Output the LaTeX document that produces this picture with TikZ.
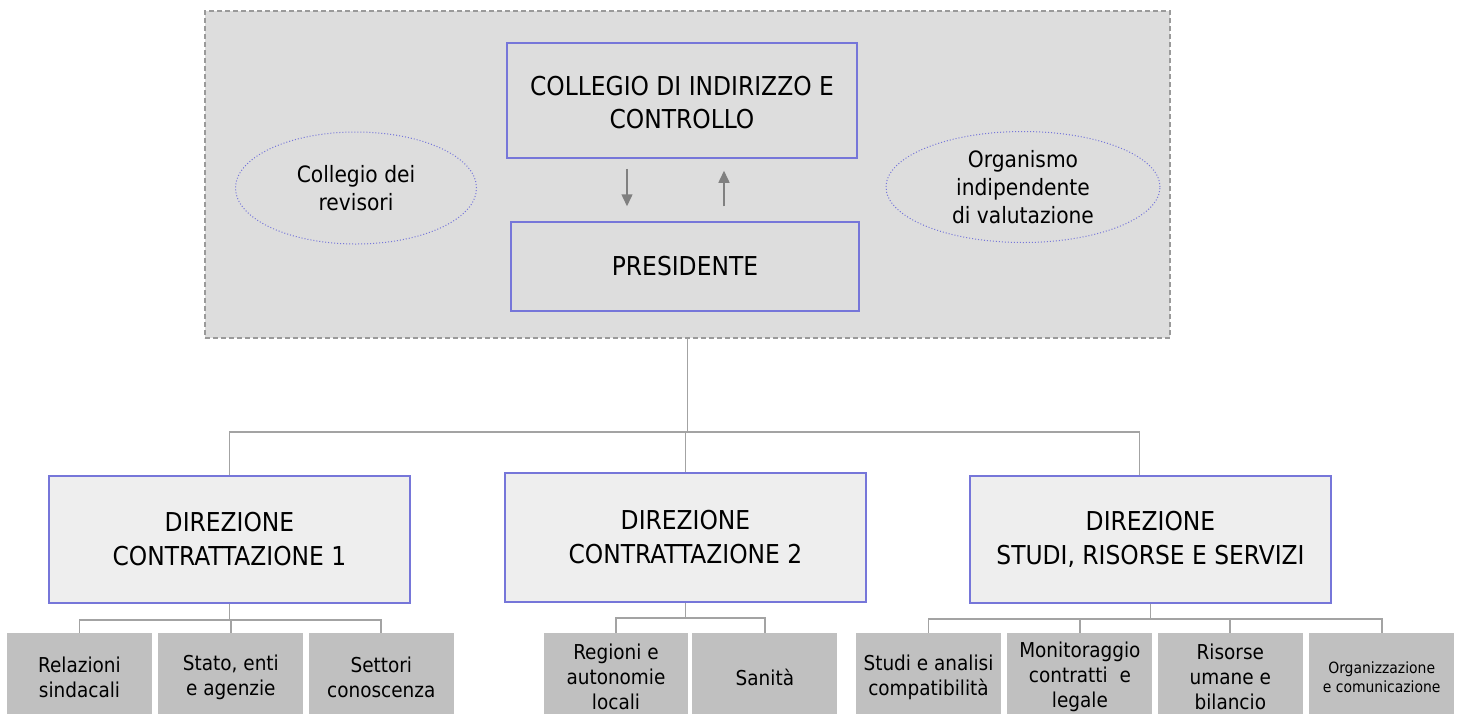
\documentclass[tikz,border=0pt]{standalone}
\usepackage{fontspec}
\setmainfont{DejaVu Sans Condensed}
\usepackage{tikz}
\usepackage{xcolor}
\usetikzlibrary{shapes}
\usetikzlibrary{calc}
\usetikzlibrary{positioning, fit, arrows.meta}

\definecolor{boxblue}{HTML}{7676D9}
\definecolor{panelgray}{HTML}{DDDDDD}
\definecolor{dashgray}{HTML}{9A9A9A}
\definecolor{dirgray}{HTML}{EEEEEE}
\definecolor{subgray}{HTML}{C0C0C0}
\definecolor{linegray}{HTML}{A3A3A3}
\definecolor{arrgray}{HTML}{808080}

\begin{document}
\begin{tikzpicture}[x=1pt, y=-1pt,
  panelbox/.style = {draw=dashgray, fill=panelgray, dashed, dash pattern=on 5pt off 3pt, line width=1.4pt, minimum width=965pt, minimum height=327pt},
  govbox/.style = {draw=boxblue, line width=1.5pt, align=center, inner sep=0pt, font=\fontsize{26}{33}\selectfont},
  organbox/.style = {draw=boxblue, dotted, ellipse, line width=1pt, align=center, inner sep=-3pt, font=\fontsize{22.5}{28}\selectfont},
  dirbox/.style = {draw=boxblue, fill=dirgray, line width=1.5pt, minimum width=361pt, align=center, inner sep=0pt, font=\fontsize{26}{34}\selectfont},
  unitbox/.style = {fill=subgray, minimum width=145pt, minimum height=88pt, align=center, inner sep=0pt, font=\fontsize{20.5}{25}\selectfont},
  conn/.style = {draw=linegray, line width=1.8pt},
  arr/.style = {draw=arrgray, line width=1.5pt, -{Triangle[length=12pt, width=11pt]}}]
    \useasboundingbox (0,0) rectangle (1460,713);

    % Nodes
    \node[panelbox] (panel) at (687.5,174.5) {};
    \node[govbox, minimum width=350pt, minimum height=115pt] (coll) at (682,100.5) {\\[-10pt]COLLEGIO DI INDIRIZZO E\\CONTROLLO};
    \node[govbox, minimum width=348pt, minimum height=89pt] (pres) at (685,266.5) {PRESIDENTE};
    \node[organbox, minimum width=241pt, minimum height=112pt] (rev) at (356,188) {Collegio dei\\revisori};
    \node[organbox, minimum width=274pt, minimum height=111pt] (oiv) at (1023,187) {Organismo\\indipendente\\di valutazione};

    \node[dirbox, minimum height=127pt] (d1) at (229.5,539.5) {DIREZIONE\\CONTRATTAZIONE 1};
    \node[dirbox, minimum height=129pt] (d2) at (685.5,537.5) {DIREZIONE\\CONTRATTAZIONE 2};
    \node[dirbox, minimum height=127pt] (d3) at (1150.5,539.5) {DIREZIONE\\STUDI, RISORSE E SERVIZI};

    \node[unitbox] (rel) at (79.5,677) {Relazioni\\sindacali};
    \node[unitbox, right=6pt of rel] (sta) {Stato, enti\\e agenzie};
    \node[unitbox, right=5pt of sta] (set) {Settori\\conoscenza};

    \node[unitbox, minimum width=144pt] (reg) at (616,677) {Regioni e\\autonomie\\locali};
    \node[unitbox, right=4pt of reg] (san) {Sanità};

    \node[unitbox] (stu) at (928.5,677) {Studi e analisi\\compatibilità};
    \node[unitbox, right=6pt of stu] (mon) {Monitoraggio\\contratti\ \ e\\legale};
    \node[unitbox, right=5pt of mon] (ris) {Risorse\\umane e\\bilancio};
    \node[unitbox, right=6pt of ris, font=\fontsize{15.5}{19}\selectfont] (org) {Organizzazione\\e comunicazione};

    % Lines
    \draw[arr] ($(coll.south)+(-55,10)$) -- ($(pres.north)+(-58,-15)$);
    \draw[arr] ($(pres.north)+(39,-15)$) -- ($(coll.south)+(42,12)$);

    \coordinate (bus) at (687,432);
    \draw[conn] (panel.south) -- (panel.south |- bus);
    \draw[conn] (d1.north) |- (bus) -| ($(d3.north)+(-11,0)$);
    \draw[conn] (d2.north |- bus) -- (d2.north);

    \draw[conn] (d1.south) -- ++(0,16) coordinate (b1);
    \draw[conn] (rel.north) |- (b1) -| (set.north);
    \draw[conn] (sta.north) -- (sta.north |- b1);

    \draw[conn] (d2.south) -- ++(0,15) coordinate (b2);
    \draw[conn] (reg.north) |- (b2) -| (san.north);

    \draw[conn] (d3.south) -- ++(0,15) coordinate (b3);
    \draw[conn] (stu.north) |- (b3) -| (org.north);
    \draw[conn] (mon.north) -- (mon.north |- b3);
    \draw[conn] (ris.north) -- (ris.north |- b3);
\end{tikzpicture}
\end{document}
